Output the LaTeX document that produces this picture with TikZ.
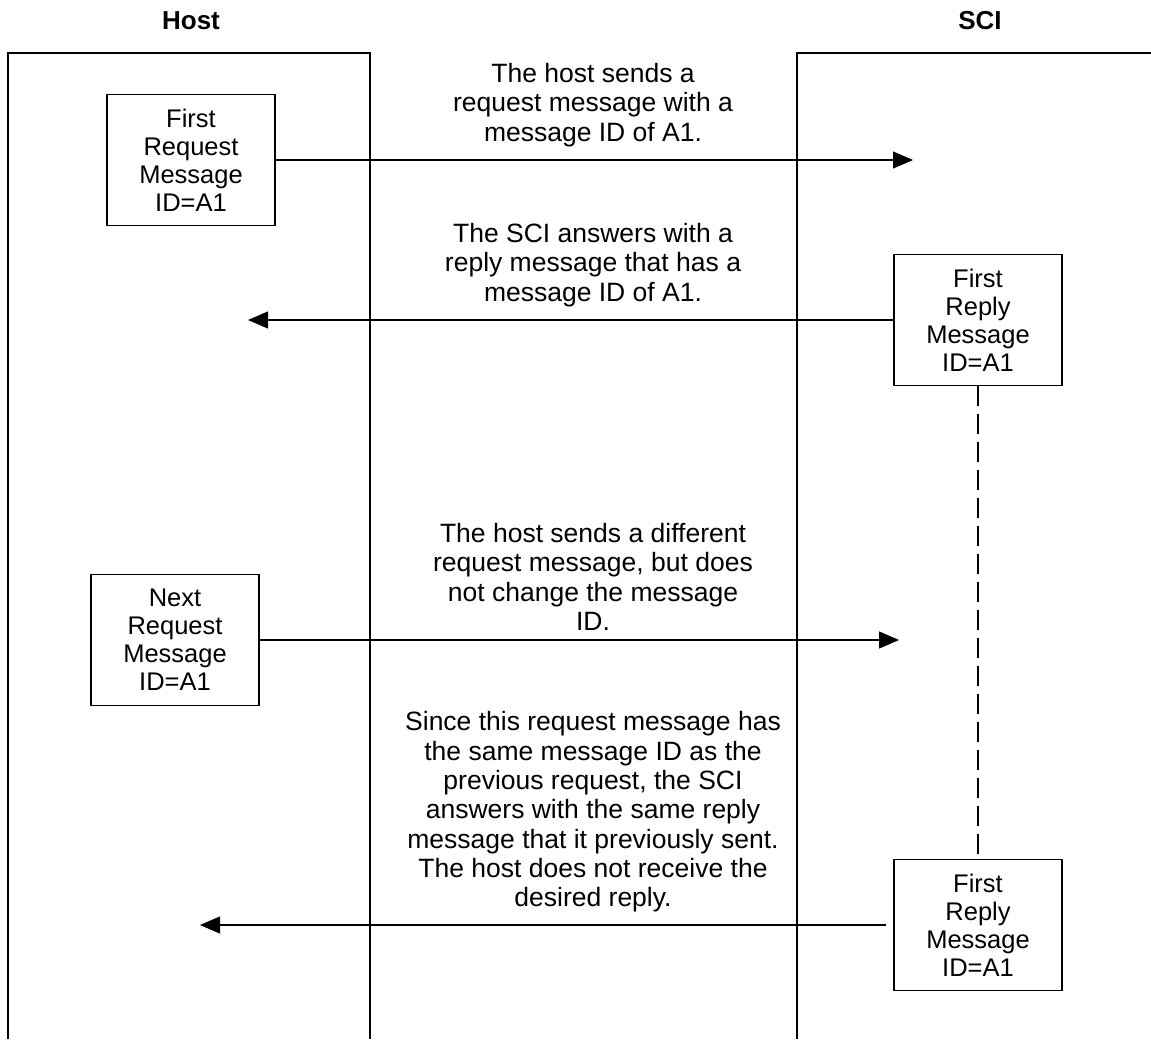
\documentclass[tikz,border=0pt]{standalone}
\usepackage{fontspec}
\setmainfont{Liberation Sans}
\usetikzlibrary{arrows.meta}
\begin{document}
\begin{tikzpicture}[x=1pt,y=-1pt,
  lane/.style={line width=1.3pt},
  msgbox/.style={draw,line width=1.1pt,minimum width=168pt,minimum height=131pt,align=center,inner sep=0pt,
    font=\fontsize{25.5}{28}\selectfont},
  note/.style={align=center,inner sep=0pt,font=\fontsize{26.5}{29.3}\selectfont},
  head/.style={font=\fontsize{26}{30}\selectfont\bfseries},
  arr/.style={line width=1.1pt,-{Triangle[length=20pt,width=17pt]}},
  waitline/.style={line width=1.1pt,dash pattern=on 20pt off 8pt}]
\useasboundingbox (0,0) rectangle (1151,1039);
% lanes
\draw[lane] (8,1039) -- (8,53) -- (370,53) -- (370,1039);
\draw[lane] (1151,53) -- (797,53) -- (797,1039);
\node[head] (hhost) at (191,21) {Host};
\node[head] (hsci) at (980,21) {SCI};
% boxes
\node[msgbox] (req1) at (191,160) {First\\Request\\Message\\ID=A1};
\node[msgbox] (rep1) at (978,320) {First\\Reply\\Message\\ID=A1};
\node[msgbox] (req2) at (175,640) {Next\\Request\\Message\\ID=A1};
\node[msgbox] (rep2) at (978,925) {First\\Reply\\Message\\ID=A1};
% arrow ends
\coordinate (t1) at (913,160);
\coordinate (t2) at (248,320);
\coordinate (t3) at (899,640);
\coordinate (t4) at (200,925);
\draw[arr] (req1.east) -- (t1);
\draw[arr] (rep1.west) -- (t2);
\draw[arr] (req2.east) -- (t3);
\draw[arr] ([xshift=-7pt]rep2.west) -- (t4);
\draw[waitline] (rep1.south) -- (rep2.north);
% notes
\node[note] (n1) at (593,105) {The host sends a\\request message with a\\message ID of A1.};
\node[note] (n2) at (593,265) {The SCI answers with a\\reply message that has a\\message ID of A1.};
\node[note] (n3) at (593,577) {The host sends a different\\request message, but does\\not change the message\\ID.};
\node[note] (n4) at (593,812) {Since this request message has\\the same message ID as the\\previous request, the SCI\\answers with the same reply\\message that it previously sent.\\The host does not receive the\\desired reply.};
\end{tikzpicture}
\end{document}
